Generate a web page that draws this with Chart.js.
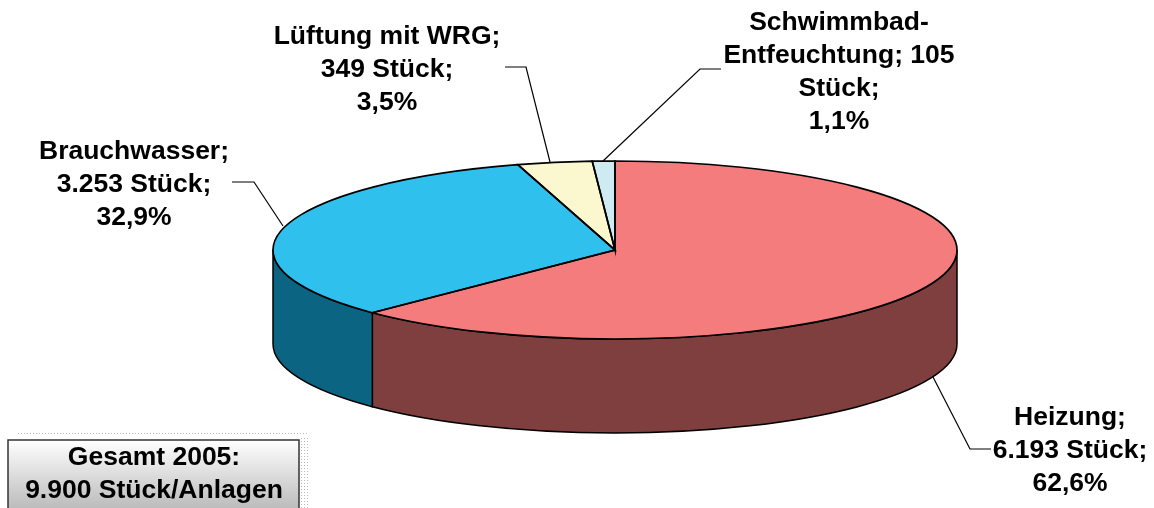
<!DOCTYPE html>
<html>
<head>
<meta charset="utf-8">
<title>Anlagen 2005</title>
<script src="https://cdn.jsdelivr.net/npm/chart.js@4"></script>
<style>
    html, body { margin: 0; padding: 0; background: #fff; }
    #wrap { position: relative; width: 1154px; height: 508px; overflow: hidden; }
</style>
</head>
<body>
<div id="wrap"><canvas id="chart" width="1154" height="508"></canvas></div>
<script>
// Daten aus der Grafik
const categories = ["Heizung", "Brauchwasser", "Lüftung mit WRG", "Schwimmbad-Entfeuchtung"];
const stueck = [6193, 3253, 349, 105];
const topColors = ["#F47C7C", "#2FC0EE", "#FBF7CE", "#CFEBF2"];
const sideColors = ["#7F3F3F", "#0B6482", "#7D7B67", "#677579"];
const labelLines = [
    ["Heizung;", "6.193 Stück;", "62,6%"],
    ["Brauchwasser;", "3.253 Stück;", "32,9%"],
    ["Lüftung mit WRG;", "349 Stück;", "3,5%"],
    ["Schwimmbad-", "Entfeuchtung; 105", "Stück;", "1,1%"]
];
const totalLines = ["Gesamt 2005:", "9.900 Stück/Anlagen"];

// Geometrie der 3D-Torte
const RX = 342, RY = 89, DEPTH = 94;
const FONT = "bold 26.5px 'Liberation Sans', Arial, sans-serif";
const LINE_H = 33;

// y = Grundlinie der ersten Zeile
const labelPos = [
    { x: 1070, y: 425, leader: [[933, 377], [970, 449], [991, 449]] },
    { x: 134, y: 158.5, leader: [[283, 226], [254, 182], [232, 182]] },
    { x: 387, y: 44, leader: [[550, 162], [526, 67], [505, 67]] },
    { x: 839, y: 29.5, leader: [[603, 161], [700, 69], [721, 69]] }
];

const pie3d = {
    id: "pie3d",
    beforeDatasetsDraw(chart) {
        const ctx = chart.ctx;
        const arcs = chart.getDatasetMeta(0).data;
        // Seitenwand: nur die vordere Hälfte ist sichtbar
        arcs.forEach((el, i) => {
            const a0 = Math.max(el.startAngle, 0);
            const a1 = Math.min(el.endAngle, Math.PI);
            if (a1 <= a0) return;
            ctx.beginPath();
            ctx.ellipse(el.x, el.y, RX, RY, 0, a0, a1);
            ctx.ellipse(el.x, el.y + DEPTH, RX, RY, 0, a1, a0, true);
            ctx.closePath();
            ctx.fillStyle = sideColors[i];
            ctx.fill();
            ctx.strokeStyle = "#000";
            ctx.lineWidth = 1.5;
            ctx.stroke();
        });
        // Deckel elliptisch stauchen
        ctx.save();
        const el = arcs[0];
        ctx.translate(el.x, el.y);
        ctx.scale(1, RY / RX);
        ctx.translate(-el.x, -el.y);
    },
    afterDatasetsDraw(chart) {
        const ctx = chart.ctx;
        ctx.restore();
        const arcs = chart.getDatasetMeta(0).data;
        ctx.strokeStyle = "#000";
        ctx.lineWidth = 1.7;
        arcs.forEach(el => {
            ctx.beginPath();
            ctx.moveTo(el.x, el.y);
            ctx.ellipse(el.x, el.y, RX, RY, 0, el.startAngle, el.endAngle);
            ctx.closePath();
            ctx.stroke();
        });
        drawLabels(ctx);
        drawTotalBox(ctx);
    }
};

function drawLabels(ctx) {
    ctx.font = FONT;
    ctx.textAlign = "center";
    ctx.textBaseline = "alphabetic";
    ctx.fillStyle = "#000";
    labelLines.forEach((lines, i) => {
        const p = labelPos[i];
        lines.forEach((txt, k) => ctx.fillText(txt, p.x, p.y + k * LINE_H));
        ctx.beginPath();
        p.leader.forEach((q, k) => k ? ctx.lineTo(q[0], q[1]) : ctx.moveTo(q[0], q[1]));
        ctx.strokeStyle = "#000";
        ctx.lineWidth = 1.2;
        ctx.stroke();
    });
}

function drawTotalBox(ctx) {
    // gepunkteter Schatten
    ctx.fillStyle = "#b8b8b8";
    for (let x = 18; x < 309; x += 3) ctx.fillRect(x, 433, 1, 1);
    for (let y = 438; y < 508; y += 3) {
        for (let x = 301; x < 309; x += 3) ctx.fillRect(x, y, 1, 1);
    }
    const g = ctx.createLinearGradient(0, 440, 0, 508);
    g.addColorStop(0, "#ffffff");
    g.addColorStop(1, "#bcbcbc");
    ctx.fillStyle = g;
    ctx.fillRect(8, 440, 291, 72);
    ctx.strokeStyle = "#333";
    ctx.lineWidth = 1.5;
    ctx.strokeRect(8, 440, 291, 72);
    ctx.font = FONT;
    ctx.fillStyle = "#000";
    ctx.textAlign = "center";
    ctx.textBaseline = "alphabetic";
    totalLines.forEach((txt, k) => ctx.fillText(txt, 154, 465 + k * LINE_H));
}

new Chart(document.getElementById("chart"), {
    type: "pie",
    data: {
        labels: categories,
        datasets: [{
            data: stueck,
            backgroundColor: topColors,
            borderWidth: 0,
            clip: false
        }]
    },
    options: {
        responsive: false,
        animation: false,
        radius: RX,
        layout: { padding: { top: 0, bottom: 8, left: 76, right: 0 } },
        plugins: { legend: { display: false }, tooltip: { enabled: false } }
    },
    plugins: [pie3d]
});
</script>
</body>
</html>
